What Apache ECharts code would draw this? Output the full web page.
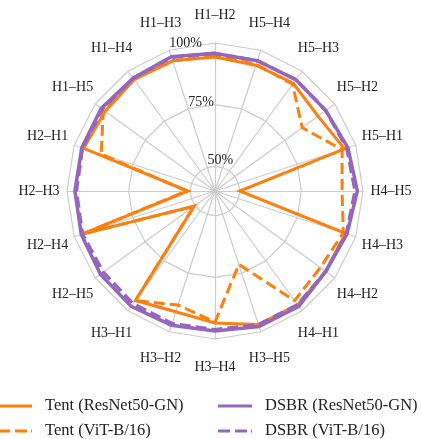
<!DOCTYPE html>
<html>
<head>
<meta charset="utf-8">
<script src="https://cdn.jsdelivr.net/npm/echarts@6/dist/echarts.min.js"></script>
<style>html,body{margin:0;padding:0;background:#fff}#c{width:422px;height:439px}</style>
</head>
<body>
<div id="c"></div>
<script>
const categories = ['H1–H2','H1–H3','H1–H4','H1–H5','H2–H1','H2–H3','H2–H4','H2–H5','H3–H1','H3–H2','H3–H4','H3–H5','H4–H1','H4–H2','H4–H3','H4–H5','H5–H1','H5–H2','H5–H3','H5–H4'];
const tentResNet = [94.3, 95.5, 95.8, 95.0, 96.0, 50.9, 96.9, 50.4, 94.9, 91.5, 93.5, 96.9, 97.0, 95.5, 95.6, 50.0, 95.2, 91.6, 94.0, 93.6];
const tentViT    = [95.0, 95.5, 96.0, 96.0, 88.5, 51.5, 96.5, 50.5, 95.0, 88.6, 93.1, 71.3, 94.9, 92.8, 94.7, 91.5, 94.2, 83.7, 93.5, 94.0];
const dsbrResNet = [95.8, 97.2, 96.5, 97.0, 96.8, 96.8, 97.0, 97.4, 97.8, 97.2, 96.8, 97.8, 97.8, 95.5, 96.3, 97.7, 96.7, 95.5, 95.8, 95.5];
const dsbrViT    = [95.8, 97.0, 96.5, 96.5, 96.5, 96.2, 96.5, 96.0, 96.5, 96.5, 96.2, 97.0, 97.0, 95.5, 96.0, 96.8, 96.2, 95.5, 95.8, 95.5];
const seriesNames = ['Tent (ResNet50-GN)', 'Tent (ViT-B/16)', 'DSBR (ResNet50-GN)', 'DSBR (ViT-B/16)'];
const tickValues = [50, 75, 100];
const tickLabels = ['50%', '75%', '100%'];
const axisMin = 40, axisMax = 100;

const FONT = "'Liberation Serif', 'DejaVu Serif', serif";
const ORANGE = '#ff7f0e', PURPLE = '#9467bd', GRID = '#cccccc';
const DASH = [11, 5];
const dashIcon = 'path://M0,0H12V3H0Z M17,0H29V3H17Z M33,0H34V3H33Z';

const chart = echarts.init(document.getElementById('c'), null, {renderer: 'canvas'});

const ringSeries = tickValues.map((t, i) => ({
  type: 'radar',
  silent: true,
  z: 1,
  symbol: 'circle',
  symbolSize: 0.01,
  itemStyle: {color: 'rgba(0,0,0,0)'},
  lineStyle: {color: GRID, width: 1.2},
  label: {
    show: true,
    position: 'right',
    distance: 0,
    offset: [0, -7],
    color: '#222',
    fontFamily: FONT,
    fontSize: 14,
    formatter: p => (p.dimensionIndex === 1 ? tickLabels[i] : '')
  },
  data: [{value: categories.map(() => t)}]
}));

function dataSeries(name, values, color, dashed, width) {
  return {
    type: 'radar',
    name: name,
    silent: true,
    z: 5,
    symbol: 'none',
    lineStyle: {color: color, width: width, type: dashed ? DASH : 'solid', join: 'miter'},
    itemStyle: {color: color},
    data: [{value: values, name: name}]
  };
}

const legendText = {fontFamily: FONT, fontSize: 16.5, color: '#222', lineHeight: 18, padding: [0, 0, 0, 8]};

chart.setOption({
  animation: false,
  backgroundColor: '#fff',
  radar: {
    center: [215, 191],
    radius: 148,
    startAngle: 90,
    shape: 'polygon',
    splitNumber: 1,
    axisNameGap: 28,
    axisName: {color: '#222', fontFamily: FONT, fontSize: 14, align: 'center', verticalAlign: 'middle'},
    axisLine: {lineStyle: {color: GRID, width: 1.2}},
    splitLine: {show: false},
    splitArea: {show: false},
    axisTick: {show: false},
    axisLabel: {show: false},
    indicator: categories.map(c => ({name: c, min: axisMin, max: axisMax}))
  },
  legend: [
    {
      orient: 'vertical', left: -2, top: 397, height: 80, padding: 0,
      itemWidth: 34, itemHeight: 3, itemGap: 7,
      textStyle: legendText,
      data: [
        {name: seriesNames[0], icon: 'rect'},
        {name: seriesNames[1], icon: dashIcon}
      ]
    },
    {
      orient: 'vertical', left: 218, top: 397, height: 80, padding: 0,
      itemWidth: 34, itemHeight: 3, itemGap: 7,
      textStyle: legendText,
      data: [
        {name: seriesNames[2], icon: 'rect'},
        {name: seriesNames[3], icon: dashIcon}
      ]
    }
  ],
  series: ringSeries.concat([
    dataSeries(seriesNames[0], tentResNet, ORANGE, false, 3),
    dataSeries(seriesNames[1], tentViT, ORANGE, true, 3),
    dataSeries(seriesNames[2], dsbrResNet, PURPLE, false, 3.5),
    dataSeries(seriesNames[3], dsbrViT, PURPLE, true, 3.5)
  ])
});
</script>
</body>
</html>
